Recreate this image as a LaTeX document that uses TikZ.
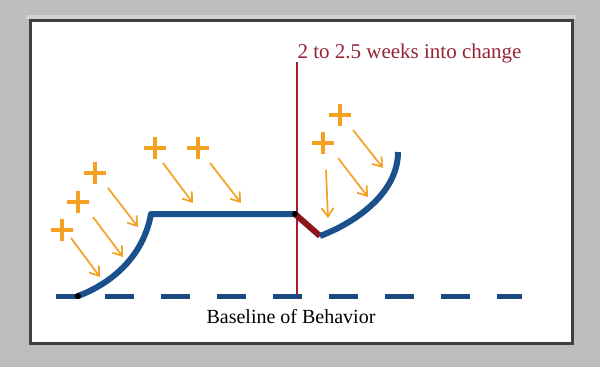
\documentclass[tikz,border=0pt]{standalone}
\usepackage{fontspec}
\setmainfont{Liberation Serif}
\usetikzlibrary{arrows.meta}

\definecolor{curveblue}{RGB}{26,80,140}
\definecolor{baseblue}{RGB}{28,72,128}
\definecolor{markred}{RGB}{165,30,45}
\definecolor{dropred}{RGB}{140,22,28}
\definecolor{pushorange}{RGB}{244,160,32}
\definecolor{titlered}{RGB}{150,36,52}
\definecolor{framegray}{RGB}{189,189,189}

\tikzset{
	plussign/.style={minimum size=22pt, inner sep=0pt, path picture={
		\draw[pushorange, line width=3.6pt]
			(path picture bounding box.west)--(path picture bounding box.east)
			(path picture bounding box.north)--(path picture bounding box.south);}},
	push/.style={pushorange, line width=1.7pt, -{Straight Barb[length=8.5pt, width=12pt, line width=1.7pt]}},
	behavior/.style={curveblue, line width=6pt, line join=round},
	dot/.style={circle, fill=black, inner sep=0pt, minimum size=6pt}
}

\begin{document}
\begin{tikzpicture}[x=1pt, y=-1pt]
\useasboundingbox (0,0) rectangle (600,367);
\fill[framegray] (0,0) rectangle (600,367);
\fill[framegray!70!white] (26,15) rectangle (576,19);
\draw[black!75, line width=3pt, fill=white] (30.5,20.5) rectangle (572.5,343.5);

% marker of the change
\coordinate (top) at (297,62);
\coordinate (foot) at (297,296);
\draw[markred, line width=1.3pt] (top)--(foot);
\node[titlered, font=\fontsize{21}{21}\selectfont, anchor=base west] (when) at (294,58) {2 to 2.5 weeks into change};

% baseline
\coordinate (bl) at (56,296);
\coordinate (br) at (522,296);
\draw[baseblue, line width=5pt, dash pattern=on 29pt off 27pt, dash phase=7pt] (bl)--(br);
\node[font=\fontsize{20}{20}\selectfont, anchor=base] (baseline) at (291,323) {Baseline of Behavior};

% behavior curve
\node[dot] (start) at (78,296) {};
\node[dot] (drop) at (295,214) {};
\coordinate (low) at (320,236);
\draw[behavior] (start.center) .. controls (110,284) and (143,258) .. (151,214)--(drop.center);
\draw[dropred, line width=6pt] (drop.center)--(low);
\draw[behavior] (low) .. controls (352,224) and (398,195) .. (398,152);
\node[dot] at (78,296) {};
\node[dot] at (295,214) {};

% reinforcement
\foreach \n/\x/\y in {1/62/230, 2/78/202, 3/95/173, 4/155/148, 5/198/148, 6/323/143, 7/340/115}{
	\node[plussign] (p\n) at (\x,\y) {};
}
\foreach \n/\xa/\ya/\xb/\yb in {1/71/238/100/277, 2/93/217/123/257, 3/108/188/138/227, 4/163/163/193/203,
	5/210/163/241/203, 6/326/170/328/218, 7/338/158/368/197, 8/353/130/383/168}{
	\coordinate (s\n) at (\xa,\ya);
	\coordinate (e\n) at (\xb,\yb);
	\draw[push] (s\n)--(e\n);
}
\end{tikzpicture}
\end{document}
